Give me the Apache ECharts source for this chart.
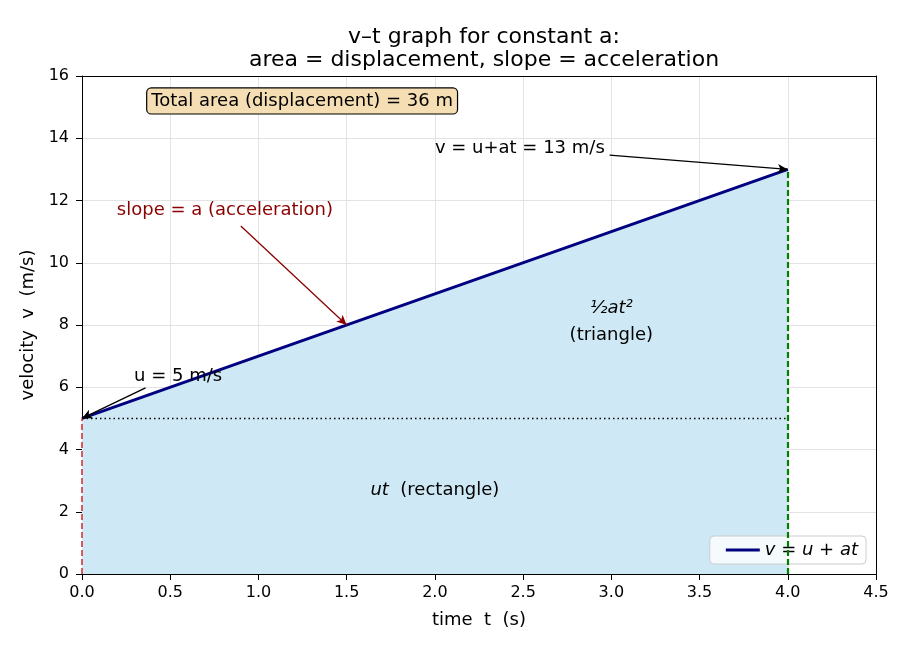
<!DOCTYPE html>
<html>
<head>
<meta charset="utf-8">
<script src="https://cdn.jsdelivr.net/npm/echarts@6/dist/echarts.min.js"></script>
<style>
  html, body { margin: 0; padding: 0; background: #fff; }
  #chart { width: 910px; height: 650px; }
</style>
</head>
<body>
<div id="chart"></div>
<script>
// v-t line for constant acceleration
const timeVals = [0, 4];
const velVals = [5, 13];

// annotation anchors (data coordinates)
const arrowFinal = [[2.99, 13.46], [4, 13]];
const arrowSlope = [[0.9, 11.18], [1.5, 8]];
const arrowStart = [[0.36, 5.98], [0, 5]];
const textFinal = [2.0, 13.69];
const textSlope = [0.81, 11.7];
const textStart = [0.545, 6.36];
const textTriangle = [3.0, 8.1];
const textRect = [2.0, 2.7];
const textTotal = [0.37, 15.2];

const chart = echarts.init(document.getElementById('chart'));
const font = 'DejaVu Sans';

const arrow = (pair, color) => [
  { coord: pair[0], symbol: 'none', lineStyle: { color: color, width: 1.3, type: 'solid' } },
  { coord: pair[1], symbol: 'arrow', symbolSize: [7, 10] }
];

const note = (coord, text, opts) => ({
  coord: coord,
  symbol: 'circle',
  symbolSize: 0,
  itemStyle: { color: 'transparent' },
  label: Object.assign({
    show: true,
    position: 'inside',
    formatter: text,
    color: '#000',
    fontFamily: font,
    fontSize: 18
  }, opts || {})
});

// frame-only axes on top/right so the box stays black
const frameAxis = (pos, min, max) => ({
  type: 'value', position: pos, min: min, max: max,
  axisLine: { show: true, onZero: false, lineStyle: { color: '#000' } },
  axisTick: { show: false }, axisLabel: { show: false }, splitLine: { show: false }
});

chart.setOption({
  animation: false,
  textStyle: { fontFamily: font },
  title: {
    text: 'v\u2013t graph for constant a:\narea = displacement, slope = acceleration',
    left: 479,
    textAlign: 'center',
    top: 21,
    textStyle: { fontFamily: font, fontSize: 22, fontWeight: 'normal', color: '#000', lineHeight: 23 }
  },
  grid: { left: 82, right: 34, top: 76, bottom: 76 },
  legend: {
    right: 44,
    bottom: 86,
    orient: 'vertical',
    icon: 'rect',
    itemWidth: 34,
    itemHeight: 3,
    itemGap: 6,
    padding: [5, 8, 5, 16],
    borderColor: '#ccc',
    borderWidth: 1,
    borderRadius: 4,
    backgroundColor: 'rgba(255,255,255,0.8)',
    textStyle: { fontFamily: font, fontSize: 18, fontStyle: 'italic', color: '#000' },
    data: ['v = u + at']
  },
  xAxis: [{
    type: 'value',
    min: 0, max: 4.5, interval: 0.5,
    name: 'time  t  (s)',
    nameLocation: 'middle',
    nameGap: 37,
    nameTextStyle: { fontFamily: font, fontSize: 18, color: '#000' },
    axisLine: { onZero: false, lineStyle: { color: '#000' } },
    axisTick: { show: true, length: 6, lineStyle: { color: '#000' } },
    axisLabel: { color: '#000', fontSize: 16, fontFamily: font, margin: 11, formatter: v => v.toFixed(1) },
    splitLine: { show: true, lineStyle: { color: '#e3e3e3', width: 1 } }
  }, frameAxis('top', 0, 4.5)],
  yAxis: [{
    type: 'value',
    min: 0, max: 16, interval: 2,
    name: 'velocity  v  (m/s)',
    nameLocation: 'middle',
    nameGap: 45,
    nameTextStyle: { fontFamily: font, fontSize: 18, color: '#000' },
    axisLine: { show: true, onZero: false, lineStyle: { color: '#000' } },
    axisTick: { show: true, length: 6, lineStyle: { color: '#000' } },
    axisLabel: { color: '#000', fontSize: 16, fontFamily: font, margin: 13 },
    splitLine: { show: true, lineStyle: { color: '#e3e3e3', width: 1 } }
  }, frameAxis('right', 0, 16)],
  series: [
    {
      name: 'v = u + at',
      type: 'line',
      data: timeVals.map((t, i) => [t, velVals[i]]),
      symbol: 'none',
      lineStyle: { color: '#000080', width: 3 },
      itemStyle: { color: '#000080' },
      areaStyle: { color: '#cee8f5', opacity: 1, origin: 'start' },
      z: 3,
      markLine: {
        silent: true,
        symbol: ['none', 'none'],
        label: { show: false },
        data: [
          [
            { coord: [timeVals[0], velVals[0]], lineStyle: { color: '#000', width: 1.3, type: [1.5, 3] } },
            { coord: [timeVals[1], velVals[0]] }
          ],
          [
            { coord: [timeVals[1], 0], lineStyle: { color: '#008000', width: 2.2, type: [6, 3] } },
            { coord: [timeVals[1], velVals[1]] }
          ],
          [
            { coord: [timeVals[0], 0], lineStyle: { color: '#d62728', width: 1.5, type: [6, 3] } },
            { coord: [timeVals[0], velVals[0]] }
          ],
          arrow(arrowFinal, '#000'),
          arrow(arrowSlope, '#8b0000'),
          arrow(arrowStart, '#000')
        ]
      },
      markPoint: {
        silent: true,
        data: [
          note(textFinal, 'v = u+at = 13 m/s', { align: 'left', verticalAlign: 'middle' }),
          note(textSlope, 'slope = a (acceleration)', { align: 'center', verticalAlign: 'middle', color: '#8b0000' }),
          note(textStart, 'u = 5 m/s', { align: 'center', verticalAlign: 'middle' }),
          note(textTriangle, '{i|\u00bdat\u00b2}\n(triangle)', {
            align: 'center', verticalAlign: 'middle', lineHeight: 27,
            rich: { i: { fontStyle: 'italic', fontSize: 18, fontFamily: font, lineHeight: 27 } }
          }),
          note(textRect, '{i|ut}  (rectangle)', {
            align: 'center', verticalAlign: 'middle',
            rich: { i: { fontStyle: 'italic', fontSize: 18, fontFamily: font } }
          }),
          note(textTotal, 'Total area (displacement) = 36 m', {
            align: 'left', verticalAlign: 'middle',
            backgroundColor: '#f5deb3',
            borderColor: '#000',
            borderWidth: 1.2,
            borderRadius: 4,
            padding: [4, 4, 3, 4]
          })
        ]
      }
    }
  ]
});
</script>
</body>
</html>
